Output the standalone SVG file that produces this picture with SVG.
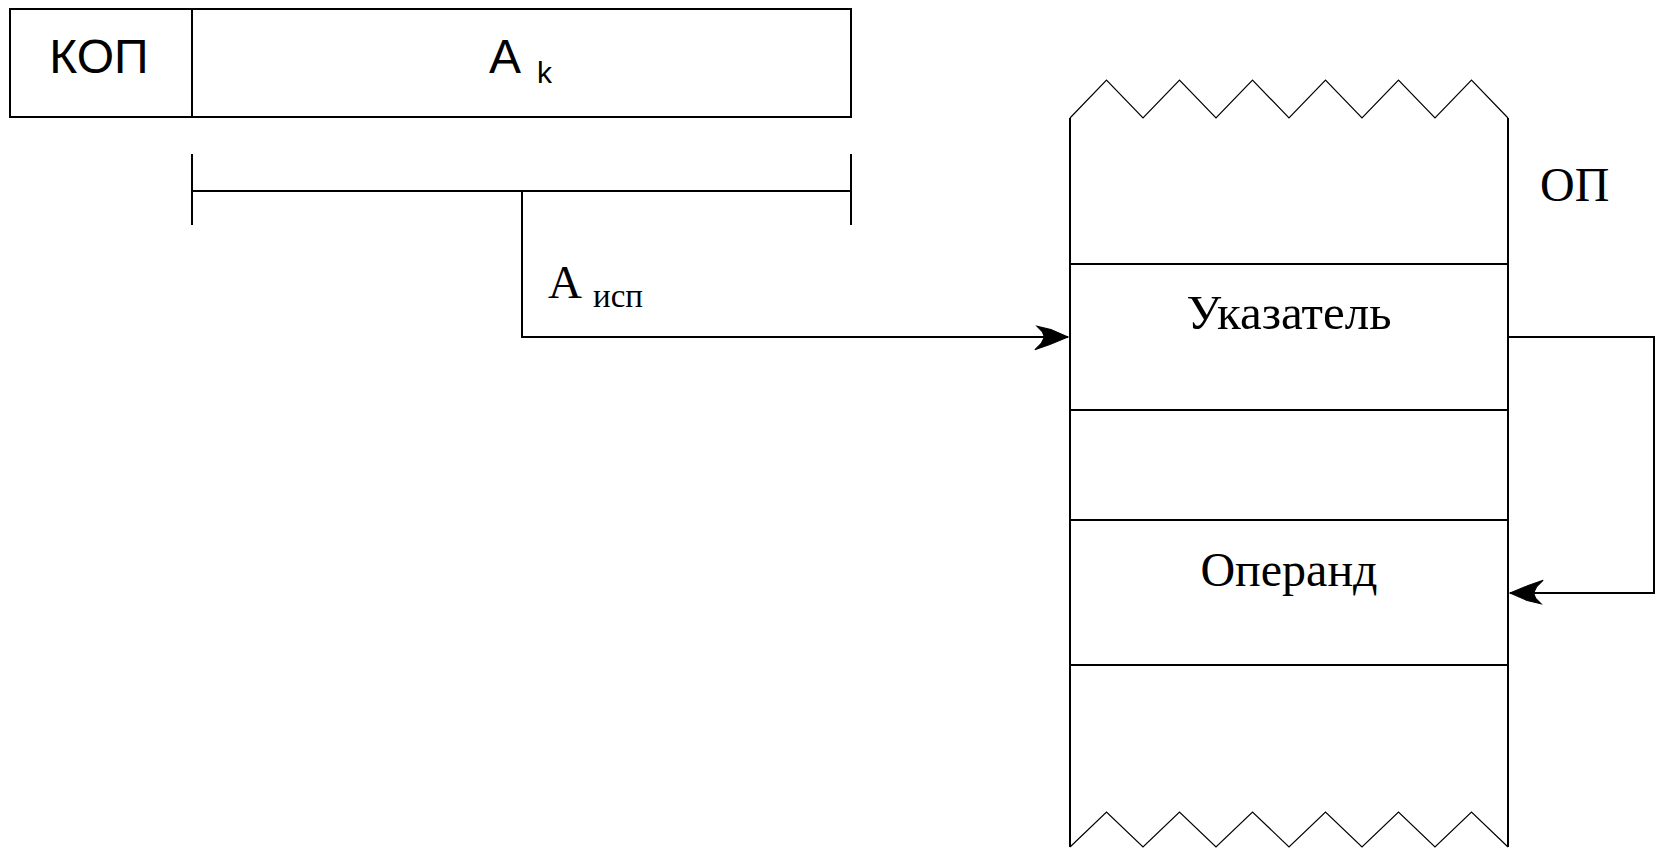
<svg xmlns="http://www.w3.org/2000/svg" width="1661" height="849" viewBox="0 0 1661 849">
  <style>
    .ln { fill: none; stroke: #000; stroke-width: 2; }
    .zz { fill: none; stroke: #000; stroke-width: 1.2; }
    .sans { font-family: "Liberation Sans", Arial, sans-serif; fill: #000; }
    .serif { font-family: "Liberation Serif", "Times New Roman", serif; fill: #000; }
  </style>
  <defs>
    <!-- heavy barbed arrowhead with thin swept-back tips -->
    <marker id="barb" markerUnits="userSpaceOnUse" markerWidth="40" markerHeight="30" viewBox="-34 -14 36 28" refX="0" refY="0" orient="auto">
      <path d="M0,0 L-16,-7 L-29,-10 L-24,-5 L-22,0 L-25,6 L-31,12 L-17,7 Z" fill="#000" stroke="#000" stroke-width="1"/>
    </marker>
  </defs>
  <rect width="1661" height="849" fill="#fff"/>

  <!-- instruction word: opcode field and address field -->
  <g id="instruction">
    <rect class="ln" x="10" y="9" width="841" height="108"/>
    <line class="ln" x1="192" y1="9" x2="192" y2="117"/>
    <text class="sans" x="99" y="73" font-size="48" text-anchor="middle">КОП</text>
    <text class="sans" x="489" y="73" font-size="48">A</text>
    <text class="sans" x="537" y="83" font-size="30">k</text>
  </g>

  <!-- bracket spanning the address field -->
  <g id="address-bracket">
    <line class="ln" x1="192" y1="191" x2="851" y2="191"/>
    <line class="ln" x1="192" y1="154" x2="192" y2="225"/>
    <line class="ln" x1="851" y1="154" x2="851" y2="225"/>
    <text class="serif" x="548" y="298" font-size="47">A</text>
    <text class="serif" x="593" y="307" font-size="33">исп</text>
  </g>

  <!-- main memory fragment -->
  <g id="memory">
    <path class="zz" d="M1070,118 L1106.5,80 L1143,118 L1179.5,80 L1216,118 L1252.5,80 L1289,118 L1325.5,80 L1362,118 L1398.5,80 L1435,118 L1471.5,80 L1508,118"/>
    <path class="zz" d="M1070,847 L1106.5,812 L1143,847 L1179.5,812 L1216,847 L1252.5,812 L1289,847 L1325.5,812 L1362,847 L1398.5,812 L1435,847 L1471.5,812 L1508,847"/>
    <line class="ln" x1="1070" y1="118" x2="1070" y2="847"/>
    <line class="ln" x1="1508" y1="118" x2="1508" y2="847"/>
    <line class="ln" x1="1070" y1="264" x2="1508" y2="264"/>
    <line class="ln" x1="1070" y1="410" x2="1508" y2="410"/>
    <line class="ln" x1="1070" y1="520" x2="1508" y2="520"/>
    <line class="ln" x1="1070" y1="665" x2="1508" y2="665"/>
    <text class="serif" x="1540" y="201" font-size="48">ОП</text>
  </g>

  <g id="pointer-cell">
    <text class="serif" x="1289" y="329" font-size="49" text-anchor="middle">Указатель</text>
  </g>

  <g id="operand-cell">
    <text class="serif" x="1289" y="586" font-size="48" text-anchor="middle">Операнд</text>
  </g>

  <g id="connectors">
    <path class="ln" d="M522,191 V337 H1068" marker-end="url(#barb)"/>
    <path class="ln" d="M1508,337 H1654 V593 H1510" marker-end="url(#barb)"/>
  </g>
</svg>
